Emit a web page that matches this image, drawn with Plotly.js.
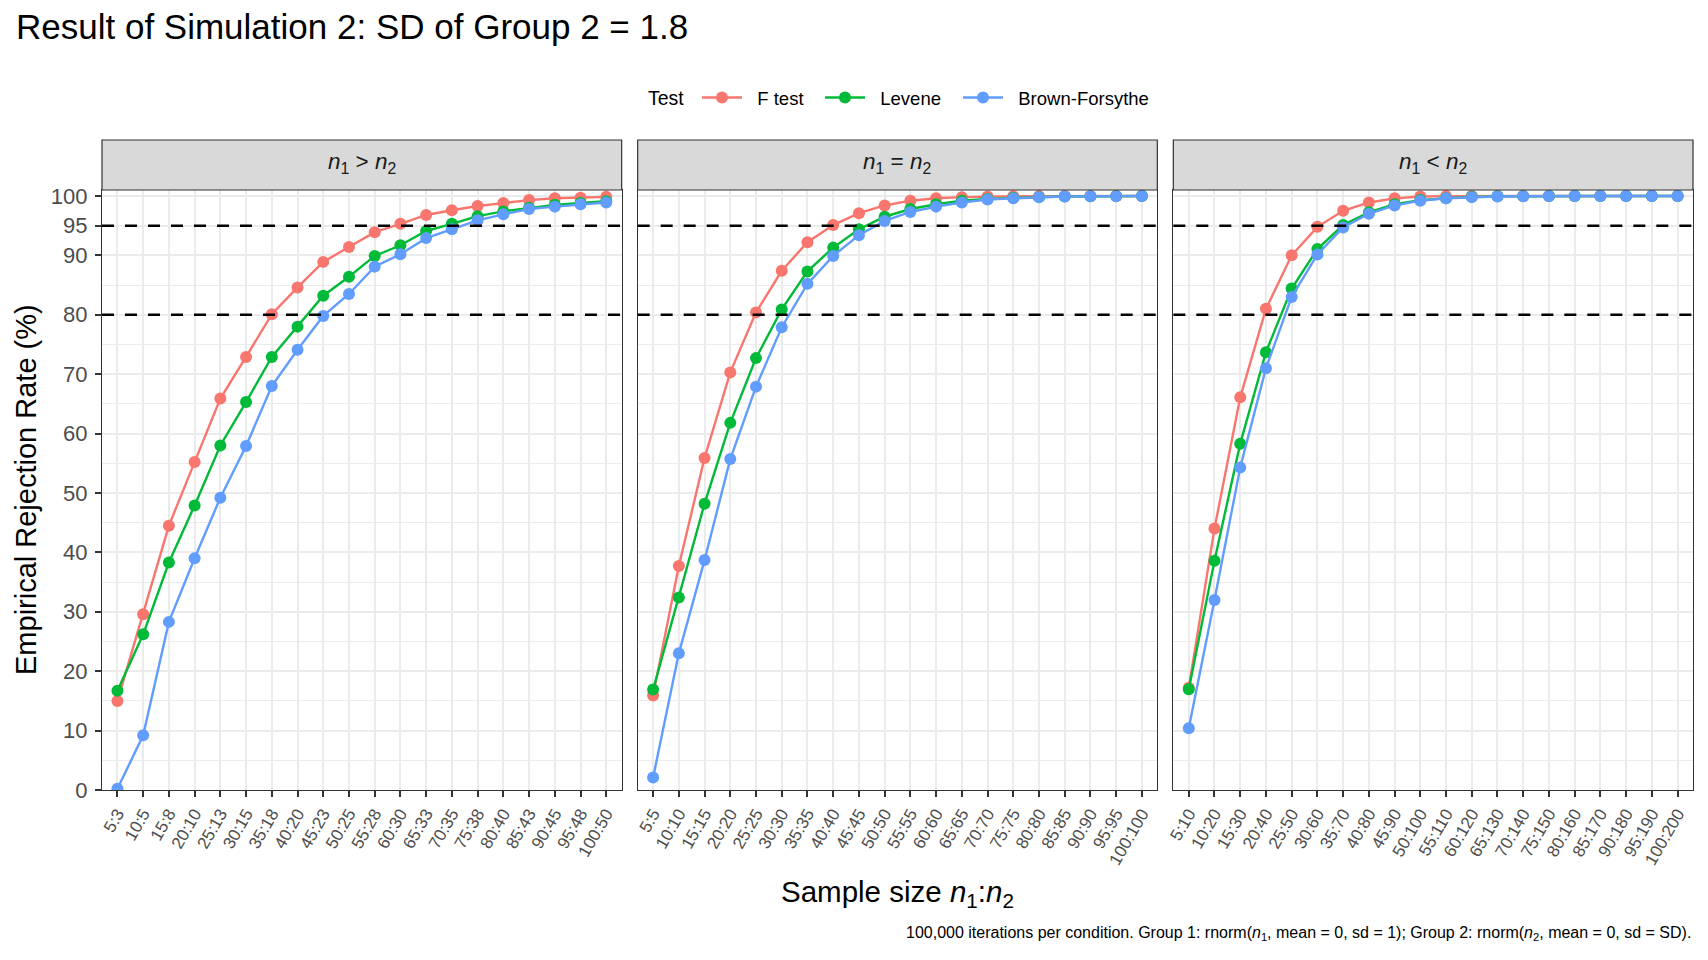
<!DOCTYPE html>
<html>
<head>
<meta charset="utf-8">
<script src="https://cdn.plot.ly/plotly-3.0.1.min.js"></script>
<style>
  html, body { margin: 0; padding: 0; background: #fff; }
  #chart { width: 1708px; height: 960px; }
</style>
</head>
<body>
<div id="chart"></div>
<script>
// sample size labels for each facet
const labelsGT = ['5:3', '10:5', '15:8', '20:10', '25:13', '30:15', '35:18', '40:20', '45:23', '50:25',
  '55:28', '60:30', '65:33', '70:35', '75:38', '80:40', '85:43', '90:45', '95:48', '100:50']
const labelsEQ = ['5:5', '10:10', '15:15', '20:20', '25:25', '30:30', '35:35', '40:40', '45:45', '50:50',
  '55:55', '60:60', '65:65', '70:70', '75:75', '80:80', '85:85', '90:90', '95:95', '100:100']
const labelsLT = ['5:10', '10:20', '15:30', '20:40', '25:50', '30:60', '35:70', '40:80', '45:90', '50:100',
  '55:110', '60:120', '65:130', '70:140', '75:150', '80:160', '85:170', '90:180', '95:190', '100:200']

// rejection rates (%), n1 > n2
const fGT = [15.0, 29.6, 44.5, 55.2, 65.9, 72.9, 80.1, 84.6, 88.9, 91.4, 93.9, 95.3, 96.8, 97.6, 98.3, 98.8, 99.3, 99.6, 99.7, 99.85]
const levGT = [16.7, 26.2, 38.3, 47.9, 58.0, 65.3, 72.9, 78.0, 83.2, 86.4, 89.9, 91.7, 94.1, 95.3, 96.6, 97.4, 98.0, 98.5, 98.8, 99.1]
const bfGT = [0.2, 9.2, 28.3, 39.0, 49.2, 57.9, 68.0, 74.1, 79.8, 83.5, 88.1, 90.2, 92.9, 94.4, 95.9, 96.9, 97.8, 98.2, 98.6, 98.9]

// n1 = n2
const fEQ = [15.9, 37.7, 55.9, 70.3, 80.4, 87.4, 92.2, 95.1, 97.1, 98.4, 99.2, 99.6, 99.8, 99.9, 99.95, 99.97, 99.98, 99.99, 100, 100]
const levEQ = [16.9, 32.4, 48.2, 61.8, 72.7, 80.9, 87.3, 91.3, 94.4, 96.5, 97.8, 98.6, 99.2, 99.5, 99.7, 99.8, 99.9, 99.95, 99.97, 99.98]
const bfEQ = [2.1, 23.0, 38.7, 55.7, 67.9, 77.9, 85.2, 89.9, 93.4, 95.8, 97.3, 98.2, 98.9, 99.4, 99.6, 99.8, 99.9, 99.93, 99.96, 99.98]

// n1 < n2
const fLT = [17.2, 44.0, 66.1, 81.0, 90.0, 94.8, 97.5, 98.9, 99.6, 99.9, 99.97, 99.99, 100, 100, 100, 100, 100, 100, 100, 100]
const levLT = [16.95, 38.6, 58.3, 73.7, 84.4, 91.05, 95.1, 97.25, 98.6, 99.3, 99.6, 99.85, 99.93, 99.97, 99.99, 100, 100, 100, 100, 100]
const bfLT = [10.4, 32.0, 54.3, 71.0, 83.0, 90.15, 94.7, 97.0, 98.4, 99.2, 99.6, 99.8, 99.9, 99.95, 99.98, 99.99, 100, 100, 100, 100]

const testNames = ['F test', 'Levene', 'Brown-Forsythe']
const testColors = ['#F8766D', '#00BA38', '#619CFF']
const stripLabels = ['<i>n</i><sub>1</sub> &gt; <i>n</i><sub>2</sub>', '<i>n</i><sub>1</sub> = <i>n</i><sub>2</sub>', '<i>n</i><sub>1</sub> &lt; <i>n</i><sub>2</sub>']
const yBreaks = [0, 10, 20, 30, 40, 50, 60, 70, 80, 90, 95, 100]
const yMinor = [5, 15, 25, 35, 45, 55, 65, 75, 85]
const refLines = [80, 95]

const FONT = 'Liberation Sans, Arial, Helvetica, sans-serif'

const panels = [
  { labels: labelsGT, series: [fGT, levGT, bfGT] },
  { labels: labelsEQ, series: [fEQ, levEQ, bfEQ] },
  { labels: labelsLT, series: [fLT, levLT, bfLT] }
]

// plot area: 102..1693 px horizontally, strips 140..190, panels 190..790
const W = 1708, H = 960
const mL = 102, mR = 15, mT = 140, mB = 170
const plotW = W - mL - mR
const plotH = H - mT - mB
const gap = 16
const panelW = (plotW - 2 * gap) / 3
const stripH = 50
const yTop = (plotH - stripH) / plotH
const pxToPaperY = py => (mT + plotH - py) / plotH

// one legend box per test so the keys can be spaced like the ggplot guide
const legendIds = ['legend', 'legend2', 'legend3']
const legendLeftPx = [697, 820, 958]
const keyPad = '\u00A0\u00A0'

const data = []
const layout = {
  width: W,
  height: H,
  margin: { l: mL, r: mR, t: mT, b: mB, pad: 0 },
  paper_bgcolor: '#ffffff',
  plot_bgcolor: '#ffffff',
  font: { family: FONT, color: '#000000' },
  showlegend: true,
  title: {
    text: 'Result of Simulation 2: SD of Group 2 = 1.8',
    x: 16 / W,
    xanchor: 'left',
    xref: 'container',
    y: 1 - 27 / H,
    yanchor: 'middle',
    yref: 'container',
    font: { size: 35, color: '#000000', family: FONT }
  },
  shapes: [],
  annotations: []
}

legendIds.forEach((id, k) => {
  layout[id] = {
    orientation: 'h',
    x: (legendLeftPx[k] - mL) / plotW,
    xanchor: 'left',
    y: pxToPaperY(98),
    yanchor: 'middle',
    itemwidth: 40,
    font: { size: 18.5, color: '#000000' },
    bgcolor: 'rgba(0,0,0,0)',
    borderwidth: 0
  }
})

panels.forEach((p, i) => {
  const suffix = i === 0 ? '' : String(i + 1)
  const x0 = (i * (panelW + gap)) / plotW
  const x1 = (i * (panelW + gap) + panelW) / plotW

  p.series.forEach((vals, k) => {
    data.push({
      x: p.labels,
      y: vals,
      xaxis: 'x' + suffix,
      yaxis: 'y' + suffix,
      type: 'scatter',
      mode: 'lines+markers',
      name: keyPad + testNames[k],
      legend: legendIds[k],
      legendgroup: testNames[k],
      showlegend: i === 0,
      line: { color: testColors[k], width: 2.4 },
      marker: { color: testColors[k], size: 12 },
      hoverinfo: 'x+y'
    })
  })

  layout['xaxis' + suffix] = {
    domain: [x0, x1],
    anchor: 'y' + suffix,
    type: 'category',
    categoryorder: 'array',
    categoryarray: p.labels,
    range: [-0.6, p.labels.length - 0.4],
    showgrid: true,
    gridcolor: '#EBEBEB',
    gridwidth: 1.8,
    zeroline: false,
    showline: true,
    linecolor: '#333333',
    linewidth: 1.2,
    mirror: true,
    ticks: 'outside',
    ticklen: 6,
    tickwidth: 1.8,
    tickcolor: '#333333',
    tickangle: -60,
    tickfont: { size: 17, color: '#4D4D4D' },
    automargin: false
  }
  layout['yaxis' + suffix] = {
    domain: [0, yTop],
    anchor: 'x' + suffix,
    range: [0, 101],
    tickmode: 'array',
    tickvals: yBreaks,
    ticktext: yBreaks.map(String),
    showticklabels: i === 0,
    showgrid: true,
    gridcolor: '#EBEBEB',
    gridwidth: 1.8,
    minor: {
      tickmode: 'array',
      tickvals: yMinor,
      showgrid: true,
      gridcolor: '#EBEBEB',
      gridwidth: 1,
      ticks: ''
    },
    zeroline: false,
    showline: true,
    linecolor: '#333333',
    linewidth: 1.2,
    mirror: true,
    ticks: i === 0 ? 'outside' : '',
    ticklen: 6,
    tickwidth: 1.8,
    tickcolor: '#333333',
    ticklabelstandoff: 3,
    tickfont: { size: 22, color: '#4D4D4D' },
    automargin: false
  }

  // facet strip
  layout.shapes.push({
    type: 'rect',
    xref: 'x' + suffix + ' domain',
    yref: 'paper',
    x0: 0, x1: 1,
    y0: yTop, y1: 1,
    fillcolor: '#D9D9D9',
    line: { color: '#333333', width: 1.2 },
    layer: 'above'
  })
  layout.annotations.push({
    xref: 'x' + suffix + ' domain',
    yref: 'paper',
    x: 0.5,
    y: pxToPaperY(163),
    xanchor: 'center',
    yanchor: 'middle',
    text: stripLabels[i],
    showarrow: false,
    font: { size: 22.5, color: '#1A1A1A' }
  })

  // reference lines at 80% and 95% (above the grid, which sits on the same values)
  refLines.forEach(v => {
    layout.shapes.push({
      type: 'line',
      xref: 'x' + suffix + ' domain',
      yref: 'y' + suffix,
      x0: 0, x1: 1,
      y0: v, y1: v,
      line: { color: '#000000', width: 2.5, dash: '12px,11px' },
      layer: 'above'
    })
  })
})

// legend title, axis titles and caption
layout.annotations.push({
  xref: 'paper', yref: 'paper',
  x: (646 - mL) / plotW, y: pxToPaperY(98),
  xanchor: 'left', yanchor: 'middle',
  text: 'Test',
  showarrow: false,
  font: { size: 19.5, color: '#000000' }
})
layout.annotations.push({
  xref: 'paper', yref: 'paper',
  x: (26 - mL) / plotW, y: yTop / 2,
  xanchor: 'center', yanchor: 'middle',
  textangle: -90,
  text: 'Empirical Rejection Rate (%)',
  showarrow: false,
  font: { size: 29, color: '#000000' }
})
layout.annotations.push({
  xref: 'paper', yref: 'paper',
  x: 0.5, y: pxToPaperY(893),
  xanchor: 'center', yanchor: 'middle',
  text: 'Sample size <i>n</i><sub>1</sub>:<i>n</i><sub>2</sub>',
  showarrow: false,
  font: { size: 29.5, color: '#000000' }
})
layout.annotations.push({
  xref: 'paper', yref: 'paper',
  x: 1, y: pxToPaperY(933),
  xanchor: 'right', yanchor: 'middle',
  text: '100,000 iterations per condition. Group 1: rnorm(<i>n</i><sub>1</sub>, mean = 0, sd = 1); Group 2: rnorm(<i>n</i><sub>2</sub>, mean = 0, sd = SD).',
  showarrow: false,
  font: { size: 16, color: '#000000' }
})

Plotly.newPlot('chart', data, layout, { displayModeBar: false, responsive: false })
</script>
</body>
</html>
